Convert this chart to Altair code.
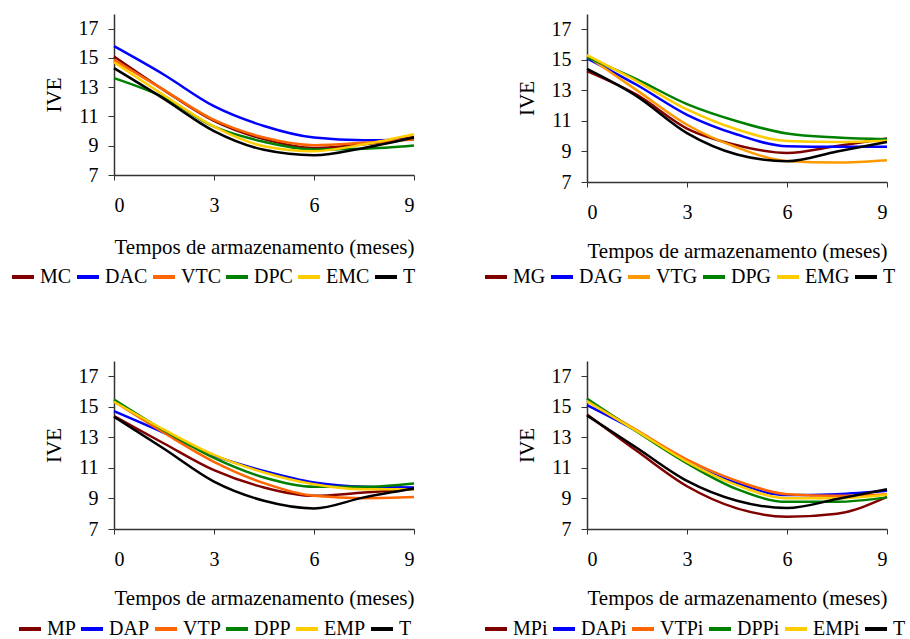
import altair as alt
import pandas as pd

months = [0, 1.5, 3, 4.5, 6, 7.5, 9]

# Panel 1
p1_labels = ["MC", "DAC", "VTC", "DPC", "EMC", "T"]
MC = [15.1, 12.8, 10.7, 9.45, 8.85, 9.1, 9.6]
DAC = [15.8, 13.85, 11.7, 10.35, 9.56, 9.38, 9.43]
VTC = [14.87, 12.8, 10.76, 9.56, 9.04, 9.2, 9.43]
DPC = [13.62, 12.3, 10.3, 9.27, 8.75, 8.8, 9.02]
EMC = [14.71, 12.45, 10.3, 8.97, 8.63, 9.1, 9.79]
T1 = [14.3, 12.2, 10.0, 8.72, 8.35, 8.85, 9.56]

# Panel 2
p2_labels = ["MG", "DAG", "VTG", "DPG", "EMG", "T"]
MG = [14.26, 12.7, 10.5, 9.41, 8.9, 9.36, 9.85]
DAG = [15.1, 13.35, 11.4, 10.11, 9.34, 9.3, 9.3]
VTG = [15.25, 13.0, 10.75, 9.26, 8.38, 8.27, 8.42]
DPG = [15.16, 13.72, 12.1, 10.98, 10.17, 9.91, 9.8]
EMG = [15.3, 13.59, 11.75, 10.44, 9.69, 9.62, 9.7]
T2 = [14.4, 12.6, 10.2, 8.8, 8.36, 9.0, 9.62]

# Panel 3
p3_labels = ["MP", "DAP", "VTP", "DPP", "EMP", "T"]
MP = [14.39, 12.6, 10.85, 9.72, 9.17, 9.39, 9.6]
DAP = [14.72, 13.3, 11.8, 10.8, 10.04, 9.76, 9.72]
VTP = [15.35, 13.3, 11.4, 10.0, 9.17, 9.02, 9.09]
DPP = [15.48, 13.45, 11.65, 10.37, 9.76, 9.76, 9.98]
EMP = [15.33, 13.5, 11.85, 10.7, 9.93, 9.6, 9.6]
T3 = [14.35, 12.25, 10.1, 8.85, 8.35, 9.07, 9.65]

# Panel 4
p4_labels = ["MPi", "DAPi", "VTPi", "DPPi", "EMPi", "T"]
MPi = [14.5, 12.1, 9.8, 8.35, 7.8, 8.0, 9.1]
DAPi = [15.11, 13.4, 11.4, 10.0, 9.22, 9.28, 9.5]
VTPi = [15.4, 13.46, 11.55, 10.15, 9.28, 9.17, 9.28]
DPPi = [15.54, 13.37, 11.3, 9.61, 8.78, 8.78, 9.07]
EMPi = [15.37, 13.41, 11.4, 9.87, 9.02, 9.02, 9.24]
T4 = [14.43, 12.3, 10.15, 8.85, 8.37, 8.96, 9.6]

colors_a = ["#800000", "#0000FF", "#FF6600", "#008000", "#FFCC00", "#000000"]
colors_b = ["#800000", "#0000FF", "#FF9900", "#008000", "#FFCC00", "#000000"]

x_ticks = [0, 3, 6, 9]
y_ticks = [7, 9, 11, 13, 15, 17]
FONT = "Liberation Serif"


def panel(labels, series, colors, height, legend_x, legend_y, title_pad):
    rows = []
    for lab, vals in zip(labels, series):
        for m, v in zip(months, vals):
            rows.append({"Mes": m, "IVE": v, "Serie": lab})
    df = pd.DataFrame(rows)
    return alt.Chart(df).mark_line(interpolate="monotone", strokeWidth=2.5).encode(
        x=alt.X("Mes:Q", scale=alt.Scale(domain=[0, 9], nice=False),
                axis=alt.Axis(values=x_ticks, title="Tempos de armazenamento (meses)",
                              tickSize=5, labelPadding=15, titlePadding=title_pad)),
        y=alt.Y("IVE:Q", scale=alt.Scale(domain=[7, 18], nice=False),
                axis=alt.Axis(values=y_ticks, title="IVE", tickSize=6,
                              labelPadding=10, titlePadding=14)),
        color=alt.Color("Serie:N", sort=labels,
                        scale=alt.Scale(domain=labels, range=colors),
                        legend=alt.Legend(title=None, orient="none", direction="horizontal",
                                          legendX=legend_x, legendY=legend_y, padding=0,
                                          symbolType="stroke", symbolSize=484,
                                          symbolStrokeWidth=4, columnPadding=-3,
                                          labelOffset=4, labelFont=FONT, labelFontSize=20,
                                          labelColor="#000000")),
    ).properties(width=300, height=height)


c1 = panel(p1_labels, [MC, DAC, VTC, DPC, EMC, T1], colors_a, 161, -104, 250, 21)
c2 = panel(p2_labels, [MG, DAG, VTG, DPG, EMG, T2], colors_b, 168, -104, 250, 18)
c3 = panel(p3_labels, [MP, DAP, VTP, DPP, EMP, T3], colors_a, 168, -97, 255, 18)
c4 = panel(p4_labels, [MPi, DAPi, VTPi, DPPi, EMPi, T4], colors_a, 168, -104, 255, 18)

row1 = alt.hconcat(c1, c2, spacing=64).resolve_scale(color="independent")
row2 = alt.hconcat(c3, c4, spacing=64).resolve_scale(color="independent")

chart = alt.vconcat(row1, row2, spacing=74).resolve_scale(color="independent").properties(
    padding={"left": 10, "top": 14, "right": 0, "bottom": 0}, background="white"
).configure_view(stroke=None).configure_axis(
    grid=False, domainColor="#333333", tickColor="#333333", domainWidth=1.5,
    labelFont=FONT, labelFontSize=20, labelColor="#000000",
    titleFont=FONT, titleFontSize=21, titleFontWeight="normal", titleColor="#000000"
)

chart.save("out.html", embed_options={"renderer": "svg", "actions": False})
